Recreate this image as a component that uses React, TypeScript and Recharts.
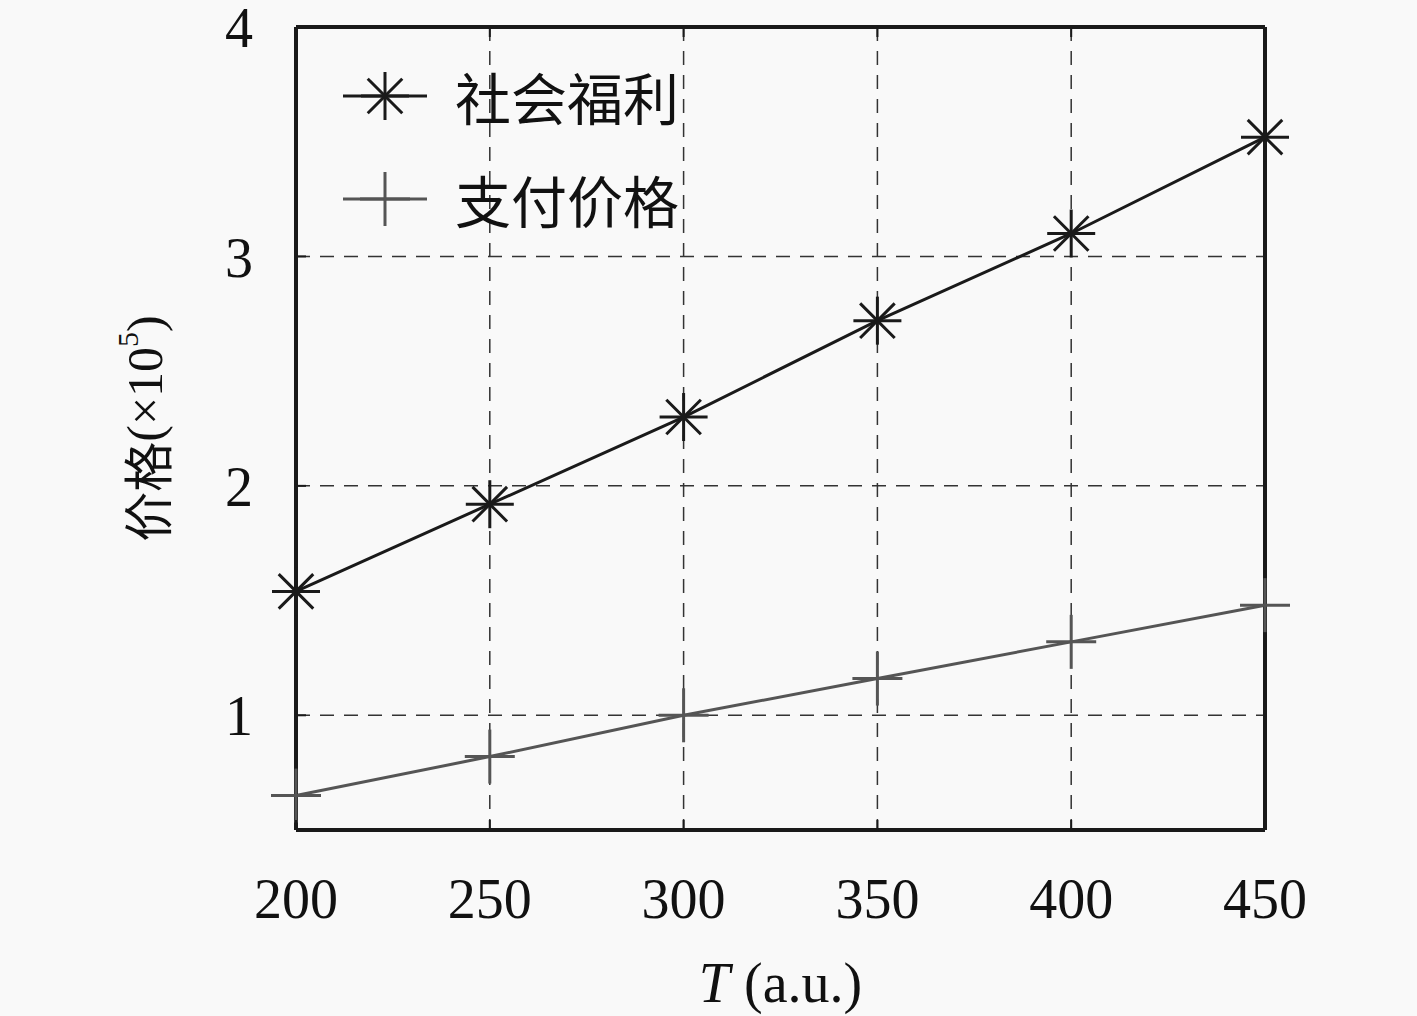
import React from 'react';
import { LineChart, Line, XAxis, YAxis, CartesianGrid, Legend, Label } from 'recharts';

const temps = [200, 250, 300, 350, 400, 450];
const welfare = [1.54, 1.92, 2.3, 2.72, 3.1, 3.52];
const payment = [0.65, 0.82, 1.0, 1.16, 1.32, 1.48];
const xTicks = [200, 250, 300, 350, 400, 450];
const yTicks = [1, 2, 3, 4];
const seriesNames = ['社会福利', '支付价格'];

const data = temps.map((t, i) => ({ t, welfare: welfare[i], payment: payment[i] }));

const serif = '"Liberation Serif", "DejaVu Serif", serif';
const cjk = '"Noto Sans CJK SC", "Noto Sans", sans-serif';
const BLACK = '#1a1a1a';
const GRAY = '#555555';

function Star({ cx, cy, color, r = 24 }: { cx: number; cy: number; color: string; r?: number }) {
  const d = r * 0.72;
  return (
    <g stroke={color} strokeWidth={3} strokeLinecap="butt">
      <line x1={cx - r} y1={cy} x2={cx + r} y2={cy} />
      <line x1={cx} y1={cy - r} x2={cx} y2={cy + r} />
      <line x1={cx - d} y1={cy - d} x2={cx + d} y2={cy + d} />
      <line x1={cx - d} y1={cy + d} x2={cx + d} y2={cy - d} />
    </g>
  );
}

function Plus({ cx, cy, color }: { cx: number; cy: number; color: string }) {
  return (
    <g stroke={color} strokeWidth={3}>
      <line x1={cx - 25} y1={cy} x2={cx + 25} y2={cy} />
      <line x1={cx} y1={cy - 27} x2={cx} y2={cy + 27} />
    </g>
  );
}

// bottom axis: inward tick + label
const BottomTick = (props: any) => {
  const { x, y, payload } = props;
  const axisY = y - 48;
  return (
    <g>
      <line x1={x} y1={axisY} x2={x} y2={axisY - 10} stroke={BLACK} strokeWidth={2} />
      <text x={x} y={y} dy="0.71em" textAnchor="middle" fontFamily={serif} fontSize={56} fill="#111">
        {payload.value}
      </text>
    </g>
  );
};

const LeftTick = (props: any) => {
  const { x, y, payload } = props;
  const axisX = x + 43;
  return (
    <g>
      <line x1={axisX} y1={y} x2={axisX + 10} y2={y} stroke={BLACK} strokeWidth={2} />
      <text x={x} y={y} dy="0.36em" textAnchor="end" fontFamily={serif} fontSize={56} fill="#111">
        {payload.value}
      </text>
    </g>
  );
};

const TopTick = (props: any) => {
  const { x, y } = props;
  return <line x1={x} y1={y} x2={x} y2={y + 10} stroke={BLACK} strokeWidth={2} />;
};

const RightTick = (props: any) => {
  const { x, y } = props;
  return <line x1={x} y1={y} x2={x - 10} y2={y} stroke={BLACK} strokeWidth={2} />;
};

const LegendBox = () => (
  <div style={{ fontFamily: cjk, fontSize: 56, color: '#111' }}>
    {seriesNames.map((name, i) => (
      <div key={name} style={{ display: 'flex', alignItems: 'center', height: 103 }}>
        <svg width={90} height={60}>
          <line x1={3} y1={30} x2={87} y2={30} stroke={i === 0 ? BLACK : GRAY} strokeWidth={3} />
          {i === 0 ? <Star cx={45} cy={30} color={BLACK} /> : <Plus cx={45} cy={30} color={GRAY} />}
        </svg>
        <span style={{ marginLeft: 25, lineHeight: 1 }}>{name}</span>
      </div>
    ))}
  </div>
);

export default function App() {
  return (
    <div style={{ position: 'absolute', left: 0, top: 0, width: 1417, height: 1016, background: '#f9f9f9' }}>
      <LineChart width={1417} height={1016} data={data} margin={{ top: 26, right: 151, bottom: 0, left: 0 }}>
        <CartesianGrid
          xAxisId="b"
          yAxisId="l"
          stroke="#333"
          strokeWidth={1.5}
          strokeDasharray="14 10"
          vertical
          horizontal
        />
        <XAxis
          xAxisId="b"
          dataKey="t"
          type="number"
          domain={[200, 450]}
          ticks={xTicks}
          height={186}
          tickSize={0}
          tickMargin={48}
          tick={<BottomTick />}
          axisLine={{ stroke: BLACK, strokeWidth: 4 }}
          tickLine={false}
        >
          <Label
            content={(p: any) => {
              const vb = p.viewBox;
              return (
                <text x={vb.x + vb.width / 2} y={vb.y + 172} textAnchor="middle" fontFamily={serif} fontSize={56} fill="#111">
                  <tspan fontStyle="italic">T</tspan>
                  <tspan> (a.u.)</tspan>
                </text>
              );
            }}
          />
        </XAxis>
        <XAxis
          xAxisId="t"
          dataKey="t"
          type="number"
          orientation="top"
          domain={[200, 450]}
          ticks={xTicks}
          height={1}
          tickSize={0}
          tickMargin={0}
          tick={<TopTick />}
          axisLine={{ stroke: BLACK, strokeWidth: 4 }}
          tickLine={false}
        />
        <YAxis
          yAxisId="l"
          type="number"
          domain={[0.5, 4]}
          ticks={yTicks}
          width={296}
          tickSize={0}
          tickMargin={43}
          tick={<LeftTick />}
          axisLine={{ stroke: BLACK, strokeWidth: 4 }}
          tickLine={false}
        >
          <Label
            content={(p: any) => {
              const vb = p.viewBox;
              const cx = vb.x + 145;
              const cy = vb.y + vb.height / 2;
              return (
                <text
                  x={cx}
                  y={cy}
                  transform={`rotate(-90 ${cx} ${cy})`}
                  textAnchor="middle"
                  dominantBaseline="central"
                  fontSize={50}
                  fill="#111"
                >
                  <tspan fontFamily={cjk}>价格</tspan>
                  <tspan fontFamily={serif}>(×10</tspan>
                  <tspan fontFamily={serif} fontSize={30} dy={-18}>5</tspan>
                  <tspan fontFamily={serif} dy={18}>)</tspan>
                </text>
              );
            }}
          />
        </YAxis>
        <YAxis
          yAxisId="r"
          type="number"
          orientation="right"
          domain={[0.5, 4]}
          ticks={yTicks}
          width={1}
          tickSize={0}
          tickMargin={0}
          tick={<RightTick />}
          axisLine={{ stroke: BLACK, strokeWidth: 4 }}
          tickLine={false}
        />
        <Legend
          verticalAlign="middle"
          align="center"
          layout="horizontal"
          content={<LegendBox />}
          wrapperStyle={{ position: 'absolute', left: 340, top: 44, width: 400, height: 210 }}
        />
        <Line
          xAxisId="b"
          yAxisId="l"
          dataKey="welfare"
          name={seriesNames[0]}
          stroke={BLACK}
          strokeWidth={3}
          isAnimationActive={false}
          dot={(p: any) => <Star key={`w${p.index}`} cx={p.cx} cy={p.cy} color={BLACK} />}
          activeDot={false}
        />
        <Line
          xAxisId="b"
          yAxisId="l"
          dataKey="payment"
          name={seriesNames[1]}
          stroke={GRAY}
          strokeWidth={3}
          isAnimationActive={false}
          dot={(p: any) => <Plus key={`p${p.index}`} cx={p.cx} cy={p.cy} color={GRAY} />}
          activeDot={false}
        />
      </LineChart>
    </div>
  );
}
